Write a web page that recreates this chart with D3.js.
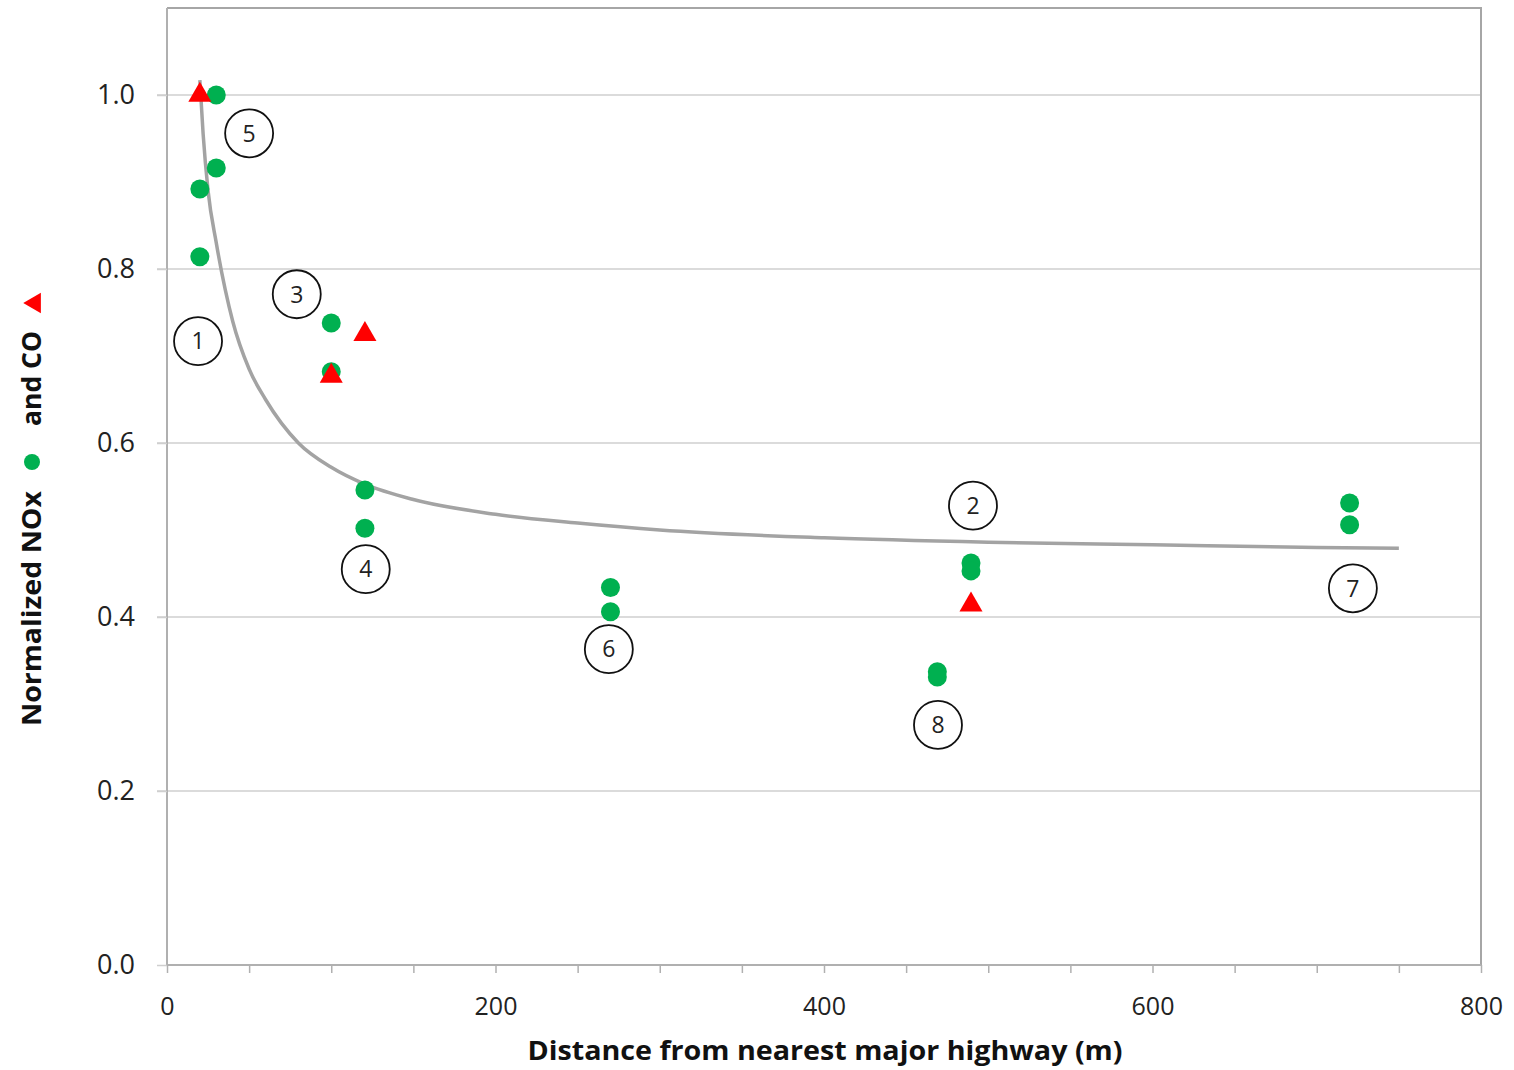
<!DOCTYPE html>
<html lang="en">
<head>
  <meta charset="UTF-8">
  <title>Normalized NOx and CO vs distance</title>
  <script src="https://d3js.org/d3.v7.min.js"></script>
  <style>
    body { margin: 0; padding: 0; background: #fff; }
    svg { display: block; font-family: "Open Sans", sans-serif; }
  </style>
</head>
<body>
  <div id="chart"></div>
  <script>
    // values
    const noxDist = [30, 30, 20, 20, 100, 100, 120.5, 120.5, 270, 270, 489.5, 489.5, 469, 469, 720, 720];
    const noxVal  = [1.0, 0.916, 0.892, 0.814, 0.738, 0.682, 0.546, 0.502, 0.434, 0.406, 0.462, 0.453, 0.337, 0.331, 0.531, 0.506];

    const coDist = [20, 120.5, 100, 489.5];
    const coVal  = [1.0, 0.725, 0.677, 0.414];

    // grey trend curve, sampled by eye
    const fitDist = [20, 22, 25, 30, 40, 50, 60, 80, 100, 120, 150, 200, 250, 300, 400, 500, 600, 700, 750];
    const fitVal  = [1.017, 0.955, 0.89, 0.83, 0.74, 0.685, 0.65, 0.60, 0.572, 0.553, 0.535, 0.518, 0.508, 0.500, 0.491, 0.486, 0.483, 0.480, 0.479];

    // circled site numbers
    const siteLabels = ['1', '5', '3', '4', '6', '2', '8', '7'];
    const siteDist = [18.9, 50, 79, 121, 269, 490.7, 469.4, 722];
    const siteVal  = [0.717, 0.956, 0.771, 0.455, 0.363, 0.528, 0.276, 0.433];

    const yTicks = [0, 0.2, 0.4, 0.6, 0.8, 1.0];
    const xTicks = [0, 200, 400, 600, 800];

    const width = 1514, height = 1070;
    const x = d3.scaleLinear().domain([0, 800]).range([167, 1481]);
    const y = d3.scaleLinear().domain([0, 1.1]).range([965, 8]);

    const svg = d3.select('#chart').append('svg')
      .attr('width', width)
      .attr('height', height);

    // grid lines (run a little past the left axis like ticks)
    svg.append('g')
      .selectAll('line')
      .data(yTicks.filter(d => d > 0))
      .join('line')
      .attr('x1', x(0) - 10).attr('x2', x(800))
      .attr('y1', d => y(d)).attr('y2', d => y(d))
      .attr('stroke', '#cfcfcf').attr('stroke-width', 1.5);

    // frame: top + right border
    svg.append('path')
      .attr('d', `M${x(0)},${y(1.1)}H${x(800)}V${y(0)}`)
      .attr('fill', 'none').attr('stroke', '#a6a6a6').attr('stroke-width', 2);

    // y axis
    const yAxis = svg.append('g')
      .attr('transform', `translate(${x(0)},0)`)
      .call(d3.axisLeft(y).tickValues(yTicks).tickFormat(d3.format('.1f')).tickSize(10).tickPadding(22));
    yAxis.select('.domain').attr('stroke', '#b0b0b0').attr('stroke-width', 2).attr('d', `M0,${y(1.1)}V${y(0)}`);
    yAxis.selectAll('.tick line').attr('stroke', '#cfcfcf').attr('stroke-width', 1.5);
    yAxis.selectAll('.tick text').attr('font-size', 27).attr('fill', '#222').attr('font-family', '"Open Sans", sans-serif');

    // x axis: minor ticks every 50, labels every 200
    const xAxis = svg.append('g')
      .attr('transform', `translate(0,${y(0)})`)
      .call(d3.axisBottom(x).tickValues(d3.range(0, 801, 50)).tickSize(8).tickPadding(24)
        .tickFormat(d => xTicks.includes(d) ? d : ''));
    xAxis.select('.domain').attr('stroke', '#b0b0b0').attr('stroke-width', 2).attr('d', `M${x(0)},0H${x(800)}`);
    xAxis.selectAll('.tick line').attr('stroke', '#b0b0b0').attr('stroke-width', 1.5);
    xAxis.selectAll('.tick text').attr('font-size', 25).attr('fill', '#222').attr('font-family', '"Open Sans", sans-serif');

    // trend curve
    const line = d3.line()
      .x((d, i) => x(fitDist[i]))
      .y(d => y(d))
      .curve(d3.curveMonotoneX);
    svg.append('path')
      .datum(fitVal)
      .attr('d', line)
      .attr('fill', 'none')
      .attr('stroke', '#a3a3a3')
      .attr('stroke-width', 3.5);

    // NOx points
    svg.append('g')
      .selectAll('circle')
      .data(noxVal)
      .join('circle')
      .attr('cx', (d, i) => x(noxDist[i]))
      .attr('cy', d => y(d))
      .attr('r', 9.5)
      .attr('fill', '#00b050');

    // CO points
    const tri = d3.symbol().type(d3.symbolTriangle).size(230);
    svg.append('g')
      .selectAll('path')
      .data(coVal)
      .join('path')
      .attr('d', tri)
      .attr('transform', (d, i) => `translate(${x(coDist[i])},${y(d)})`)
      .attr('fill', '#ff0000');

    // circled numbers
    const site = svg.append('g')
      .selectAll('g')
      .data(siteLabels)
      .join('g')
      .attr('transform', (d, i) => `translate(${x(siteDist[i])},${y(siteVal[i])})`);
    site.append('circle')
      .attr('r', 24)
      .attr('fill', 'none')
      .attr('stroke', '#111')
      .attr('stroke-width', 1.8);
    site.append('text')
      .attr('text-anchor', 'middle')
      .attr('dy', '0.36em')
      .attr('font-size', 23)
      .attr('fill', '#222')
      .text(d => d);

    // x title
    svg.append('text')
      .attr('x', 825)
      .attr('y', 1060)
      .attr('text-anchor', 'middle')
      .attr('font-size', 27)
      .attr('font-weight', 'bold')
      .attr('fill', '#111')
      .attr('textLength', 595)
      .attr('lengthAdjust', 'spacingAndGlyphs')
      .text('Distance from nearest major highway (m)');

    // y title with inline marker keys, reads bottom to top
    const yt = svg.append('g').attr('transform', 'translate(41,0) rotate(-90)');
    yt.append('text')
      .attr('x', -726).attr('y', 0)
      .attr('font-size', 27).attr('font-weight', 'bold').attr('fill', '#111')
      .attr('textLength', 235).attr('lengthAdjust', 'spacingAndGlyphs')
      .text('Normalized NOx');
    yt.append('circle')
      .attr('cx', -462).attr('cy', -9)
      .attr('r', 8).attr('fill', '#00b050');
    yt.append('text')
      .attr('x', -426).attr('y', 0)
      .attr('font-size', 27).attr('font-weight', 'bold').attr('fill', '#111')
      .attr('textLength', 95).attr('lengthAdjust', 'spacingAndGlyphs')
      .text('and CO');
    yt.append('path')
      .attr('d', d3.symbol().type(d3.symbolTriangle).size(180))
      .attr('transform', 'translate(-303,-6)')
      .attr('fill', '#ff0000');
  </script>
</body>
</html>
